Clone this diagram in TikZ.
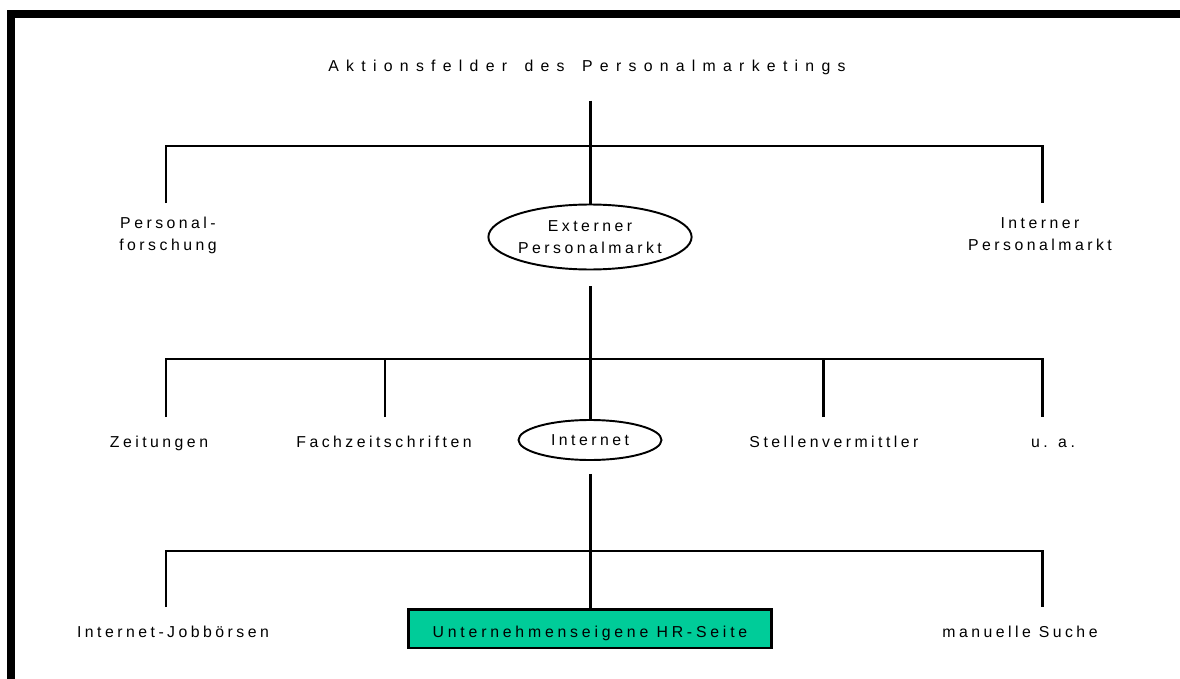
\documentclass[tikz,border=0pt]{standalone}
\usepackage{fontspec}
\setmainfont{Liberation Sans}
\newfontfamily\lblfont[LetterSpace=22]{Liberation Sans}
\newfontfamily\titlefont[LetterSpace=46, WordSpace=1.5]{Liberation Sans}
\newfontfamily\hrfont[LetterSpace=24]{Liberation Sans}
\usetikzlibrary{positioning, shapes.geometric, calc}
\definecolor{hrgreen}{HTML}{00CC99}

\begin{document}
\begin{tikzpicture}[x=0.02cm, y=-0.02cm,
    lbl/.style={font=\fontsize{9}{12.5}\lblfont, inner sep=0pt},
    twoline/.style={lbl, align=center},
    oval/.style={draw, ellipse, line width=1.1pt, inner sep=0pt,
                 font=\fontsize{9}{12.5}\lblfont, align=center},
    tree/.style={line width=1.7pt}]
  \useasboundingbox (0,0) rectangle (1180,679);
  % frame, top and left side only
  \draw[line width=0.16cm] (11,679) -- (11,14) -- (1180,14);

  \node[font=\fontsize{9}{12.5}\titlefont, inner sep=0pt, anchor=base] (title) at (587,72)
    {Aktionsfelder des Personalmarketings};

  % first level
  \node[twoline] (pf) at (168,235) {Personal-\\forschung};
  \node[oval, minimum width=4cm, minimum height=1.3cm] (ext) at (590,237) {Externer\\Personalmarkt};
  \node[twoline] (ip) at (1040,234) {Interner\\Personalmarkt};

  % second level
  \node[lbl, anchor=base] (zeit) at (159,447) {Zeitungen};
  \node[lbl, anchor=base] (fach) at (384,447) {Fachzeitschriften};
  \node[oval, minimum width=2.86cm, minimum height=0.8cm] (inet) at (590,440) {Internet};
  \node[lbl, anchor=base] (stell) at (834,447) {Stellenvermittler};
  \node[lbl, anchor=base] (ua) at (1053,447) {u. a.};

  % third level
  \node[lbl, anchor=base] (jb) at (173,637) {Internet-Jobbörsen};
  \node[draw, fill=hrgreen, line width=1.7pt, inner sep=0pt, minimum width=7.26cm,
        minimum height=0.78cm, text height=0.34cm, text depth=0pt,
        font=\fontsize{9}{12.5}\hrfont] (hr) at (590,628.5)
    {Unternehmenseigene HR-Seite};
  \node[lbl, anchor=base] (ms) at (1020,637) {manuelle Suche};

  % junctions and branch ends
  \coordinate (j1) at (590,146);
  \coordinate (j2) at (590,359);
  \coordinate (j3) at (590,551);
  \coordinate (pf-end) at (166,203);
  \coordinate (ip-end) at (1042,203);
  \coordinate (zeit-end) at (166,417);
  \coordinate (fach-end) at (385,417);
  \coordinate (stell-end) at (823,417);
  \coordinate (ua-end) at (1042,417);
  \coordinate (jb-end) at (166,607);
  \coordinate (ms-end) at (1042,607);

  \draw[tree, shorten <=0.5cm] (title.south -| j1) -- (j1);
  \draw[tree] (pf-end) |- (j1) -| (ip-end);
  \draw[tree] (j1) -- (ext);
  \draw[tree, shorten <=0.32cm] (ext) -- (j2);
  \draw[tree] (zeit-end) |- (j2) -| (ua-end);
  \foreach \n in {fach, stell}
    \draw[tree] (\n-end) -- (\n-end |- j2);
  \draw[tree] (j2) -- (inet);
  \draw[tree, shorten <=0.26cm] (inet) -- (j3);
  \draw[tree] (jb-end) |- (j3) -| (ms-end);
  \draw[tree] (j3) -- (hr);
\end{tikzpicture}
\end{document}
